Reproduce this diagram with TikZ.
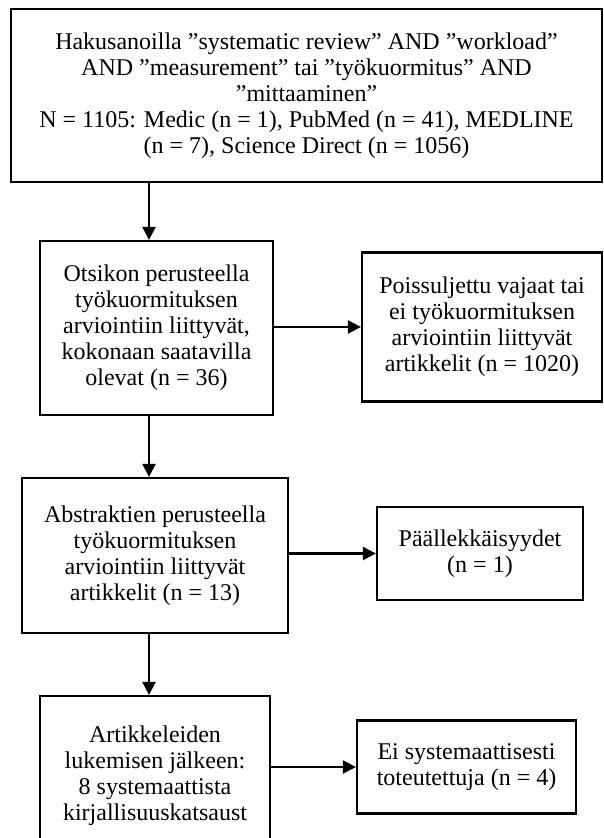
\documentclass[tikz,border=0pt]{standalone}
\usepackage{fontspec}
\setmainfont{Liberation Serif}
\usetikzlibrary{arrows.meta}

\begin{document}
\begin{tikzpicture}[x=1pt, y=-1pt, >={Triangle[length=13pt,width=13pt]},
    box/.style={draw, line width=2.2pt, align=center, inner sep=0pt,
      font=\fontsize{24}{26}\selectfont},
    arr/.style={->, line width=2.2pt}]

    \useasboundingbox (0,0) rectangle (603,838);
    \clip (0,0) rectangle (603,838);

    % haku
    \node[box, minimum width=591pt, minimum height=173pt] (search) at (306.5,95.5)
        {Hakusanoilla ”systematic review” AND ”workload”\\
         AND ”measurement” tai ”työkuormitus” AND\\
         ”mittaaminen”\\
         N = 1105: Medic (n = 1), PubMed (n = 41), MEDLINE\\
         (n = 7), Science Direct (n = 1056)};

    % vasen sarake
    \node[box, minimum width=233pt, minimum height=174pt] (title) at (156.5,328)
        {Otsikon perusteella\\ työkuormituksen\\ arviointiin liittyvät,\\
         kokonaan saatavilla\\ olevat (n = 36)};
    \node[box, minimum width=266pt, minimum height=155pt] (abstr) at (155,555.5)
        {Abstraktien perusteella\\ työkuormituksen\\ arviointiin liittyvät\\
         artikkelit (n = 13)};
    \node[box, minimum width=230pt, minimum height=160pt] (fulltext) at (155,776)
        {Artikkeleiden\\ lukemisen jälkeen:\\ 8 systemaattista\\
         kirjallisuuskatsaust};

    % oikea sarake
    \node[box, minimum width=240pt, minimum height=149pt] (excl) at (482,327)
        {Poissuljettu vajaat tai\\ ei työkuormituksen\\ arviointiin liittyvät\\
         artikkelit (n = 1020)};
    \node[box, minimum width=206pt, minimum height=93pt] (dupl) at (480,553.5)
        {Päällekkäisyydet\\ (n = 1)};
    \node[box, minimum width=219pt, minimum height=93pt] (nosr) at (466.5,767)
        {Ei systemaattisesti\\ toteutettuja (n = 4)};

    \coordinate (spine) at (149,0);

    \draw[arr] (search.south -| spine) -- (title.north -| spine);
    \draw[arr] (title.south -| spine) -- (abstr.north -| spine);
    \draw[arr] (abstr.south -| spine) -- (fulltext.north -| spine);

    \draw[arr] (title.east |- excl.west) -- (excl.west);
    \draw[arr] (abstr.east |- dupl.west) -- (dupl.west);
    \draw[arr] (fulltext.east |- nosr.west) -- (nosr.west);

\end{tikzpicture}
\end{document}
